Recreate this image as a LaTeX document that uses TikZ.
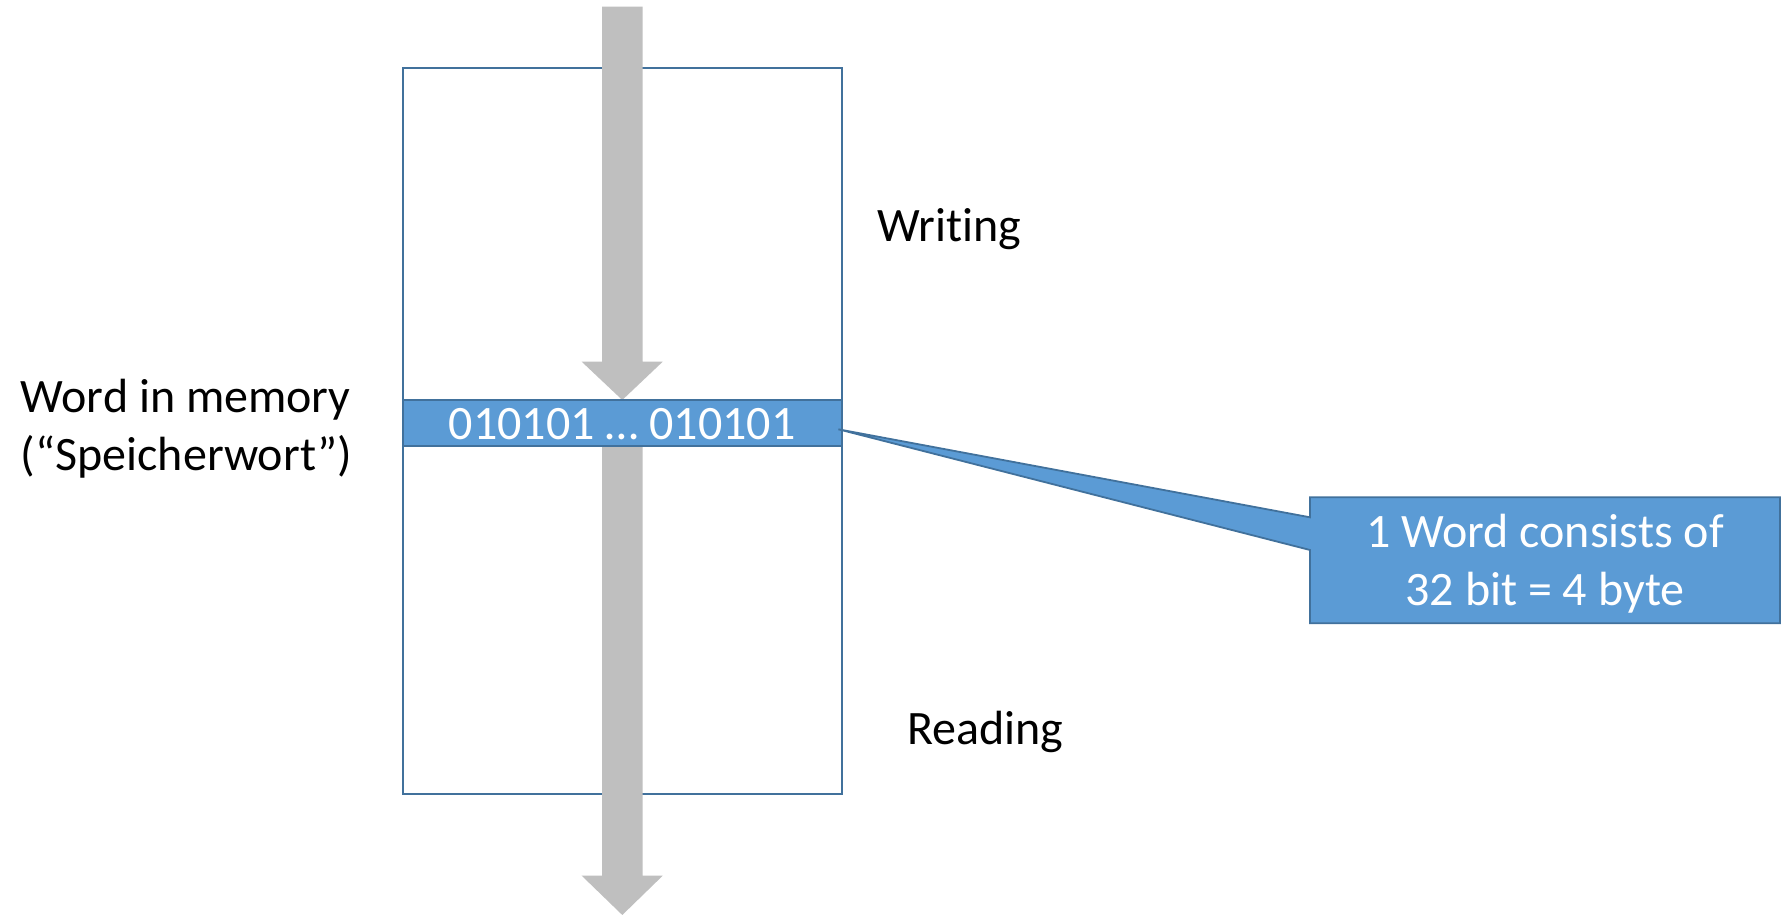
\documentclass[tikz,border=0pt]{standalone}
\usepackage{fontspec}
\setmainfont{Carlito}[Ligatures=NoCommon]
\definecolor{boxline}{HTML}{41719C}
\definecolor{bandfill}{HTML}{5B9BD5}
\definecolor{arrowgray}{HTML}{BFBFBF}
\tikzset{
  lbl/.style={inner sep=0pt, font=\fontsize{24}{29}\selectfont, text=black},
  wlbl/.style={inner sep=0pt, font=\fontsize{24}{29}\selectfont, text=white},
  outline/.style={draw=boxline, line width=0.9pt},
  grayarrow/.style={fill=arrowgray, draw=none}
}
\begin{document}
\begin{tikzpicture}[x=0.5pt,y=-0.5pt]
\useasboundingbox (0,0) rectangle (1782,915);
% memory block
\coordinate (memNW) at (402.7,68.3);
\coordinate (memSE) at (841.7,794);
\draw[outline, fill=white] (memNW) rectangle (memSE);
% writing arrow
\fill[grayarrow] (602,6.7) -- (642.7,6.7) -- (642.7,361.7) -- (662.7,361.7) -- (622.3,400) -- (581.7,361.7) -- (602,361.7) -- cycle;
% reading arrow
\fill[grayarrow] (602,446) -- (642.7,446) -- (642.7,875.7) -- (662.7,875.7) -- (622.3,915) -- (581.7,875.7) -- (602,875.7) -- cycle;
% word band
\coordinate (bandNW) at (402.7,400);
\coordinate (bandSE) at (841.7,446);
\draw[outline, fill=bandfill] (bandNW) rectangle (bandSE);
\node[wlbl, anchor=base] (band) at (622.2,439.3) {010101 … 010101};
% callout
\coordinate (tip) at (838.4,429.3);
\coordinate (cNW) at (1310,497.3);
\coordinate (cNE) at (1780,497.3);
\coordinate (cSE) at (1780,623.3);
\coordinate (cSW) at (1310,623.3);
\coordinate (cA) at (1310,517.3);
\coordinate (cB) at (1310,550);
\draw[outline, fill=bandfill, line join=miter] (cNW) -- (cNE) -- (cSE) -- (cSW) -- (cB) -- (tip) -- (cA) -- cycle;
\node[wlbl, anchor=base] (call1) at (1545,547.3) {1 Word consists of};
\node[wlbl, anchor=base] (call2) at (1545,605) {32 bit = 4 byte};
% labels
\node[lbl, anchor=base west] (writing) at (877,241) {Writing};
\node[lbl, anchor=base west] (reading) at (907,744) {Reading};
\node[lbl, anchor=base west] (word1) at (20.5,412) {Word in memory};
\node[lbl, anchor=base west] (word2) at (20.5,470) {(“Speicherwort”)};
\end{tikzpicture}
\end{document}
